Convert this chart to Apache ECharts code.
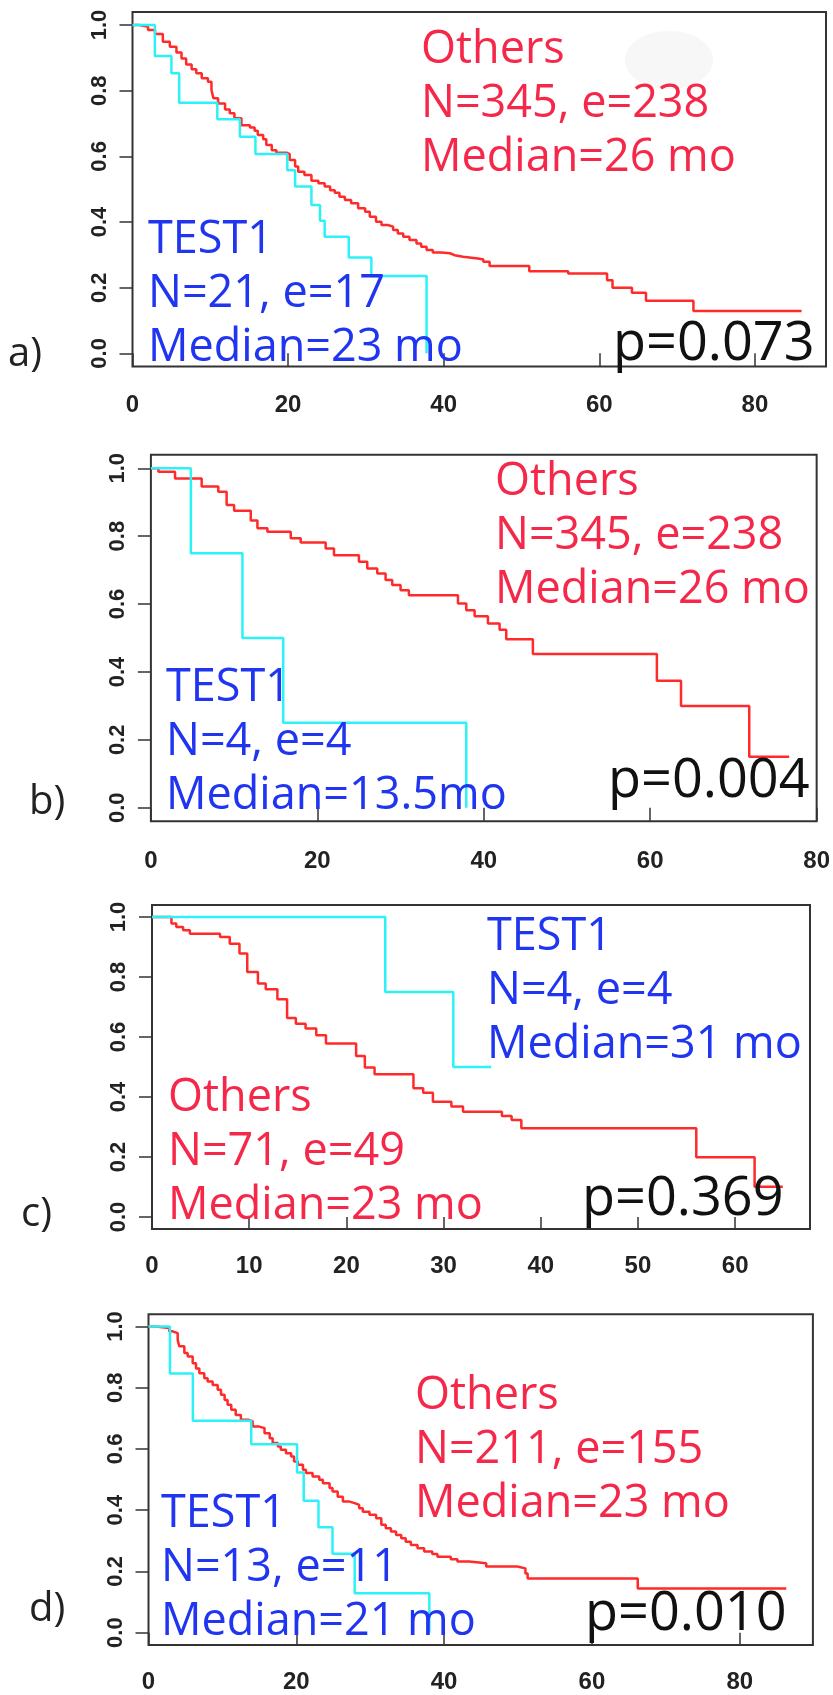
<!DOCTYPE html>
<html><head><meta charset="utf-8">
<script src="https://cdn.jsdelivr.net/npm/echarts@6/dist/echarts.min.js"></script>
<style>html,body{margin:0;padding:0;background:#fff}#c{width:833px;height:1695px}</style>
</head><body><div id="c"></div>
<script>
// ---------------- DATA ----------------
const yTicks = [0, 0.2, 0.4, 0.6, 0.8, 1.0];
const xTicksA = [0, 20, 40, 60, 80];
const xTicksB = [0, 20, 40, 60, 80];
const xTicksC = [0, 10, 20, 30, 40, 50, 60];
const xTicksD = [0, 20, 40, 60, 80];

// Kaplan-Meier curves: [time (months), survival after the drop at that time]
const othersA = [[0,1],[0.9,0.995],[2.0,0.985],[2.9,0.973],[3.9,0.949],[4.8,0.934],[5.65,0.916],[6.3,0.898],[6.9,0.88],[7.6,0.865],[8.2,0.853],[8.9,0.838],[9.7,0.827],[10.15,0.802],[10.4,0.777],[11.0,0.761],[11.9,0.743],[12.5,0.731],[13.1,0.716],[14.0,0.695],[15.1,0.688],[15.7,0.678],[16.1,0.665],[16.8,0.652],[17.2,0.635],[17.9,0.619],[18.5,0.611],[19.8,0.607],[20.2,0.589],[20.9,0.569],[21.3,0.553],[22.1,0.543],[23.0,0.526],[23.9,0.518],[24.7,0.508],[25.4,0.497],[26.0,0.489],[26.6,0.477],[27.3,0.467],[28.1,0.457],[29.0,0.442],[29.9,0.431],[30.5,0.416],[31.3,0.401],[32.0,0.391],[32.8,0.386],[33.5,0.376],[34.1,0.365],[34.8,0.355],[35.6,0.345],[36.5,0.335],[37.1,0.325],[37.8,0.315],[38.6,0.307],[39.7,0.305],[40.8,0.299],[41.4,0.294],[42.5,0.289],[44.4,0.286],[45.1,0.279],[45.9,0.266],[51.0,0.25],[56.0,0.243],[61.0,0.223],[61.7,0.2],[64.2,0.185],[66.0,0.16],[72.1,0.129],[86.0,0.129]];
const test1A = [[0,1],[2.87,0.906],[5.0,0.853],[6.0,0.763],[10.9,0.713],[13.8,0.66],[15.8,0.607],[19.9,0.558],[20.9,0.508],[23.0,0.452],[24.1,0.404],[24.7,0.355],[27.8,0.292],[30.7,0.236],[37.8,0]];

const othersB = [[0,1],[0.9,0.99],[2.9,0.97],[6.1,0.946],[8.1,0.931],[9.1,0.892],[10.0,0.875],[12.0,0.846],[12.8,0.823],[14.0,0.813],[16.8,0.794],[18.0,0.781],[21.0,0.764],[22.0,0.744],[25.0,0.725],[26.0,0.705],[27.2,0.69],[28.2,0.671],[29.0,0.656],[30.0,0.641],[31.0,0.626],[36.9,0.602],[37.9,0.582],[38.9,0.564],[40.5,0.543],[41.9,0.524],[42.7,0.496],[45.9,0.453],[60.8,0.374],[63.7,0.30],[71.9,0.15],[76.7,0.15]];
const test1B = [[0,1],[4.8,0.75],[11.0,0.5],[15.9,0.25],[37.9,0]];

const othersC = [[0,1],[2.0,0.978],[2.5,0.967],[3.2,0.956],[3.9,0.944],[7.0,0.933],[8.0,0.911],[9.0,0.878],[9.8,0.817],[10.9,0.778],[11.7,0.759],[12.9,0.726],[13.9,0.663],[14.8,0.644],[15.8,0.628],[16.9,0.606],[17.9,0.578],[21.0,0.537],[21.9,0.498],[22.9,0.476],[26.9,0.429],[27.9,0.414],[28.9,0.384],[30.8,0.368],[32.0,0.351],[36.0,0.337],[37.0,0.323],[38.0,0.296],[56.0,0.199],[62.0,0.101],[64.9,0.101]];
const test1C = [[0,1],[24.0,0.75],[31.0,0.5],[34.9,0.5]];

const othersD = [[0,1],[1.0,0.995],[2.8,0.984],[3.27,0.978],[3.95,0.956],[4.17,0.935],[4.85,0.913],[5.3,0.902],[5.98,0.88],[6.43,0.863],[6.88,0.847],[7.55,0.831],[8.0,0.82],[8.68,0.809],[9.36,0.793],[9.81,0.777],[10.3,0.76],[10.7,0.744],[11.2,0.728],[11.8,0.711],[12.5,0.695],[13.6,0.69],[14.1,0.673],[15.0,0.668],[15.7,0.651],[16.4,0.635],[16.8,0.619],[17.5,0.608],[17.9,0.597],[18.6,0.586],[19.3,0.575],[19.7,0.559],[20.2,0.548],[20.9,0.532],[21.3,0.521],[22.2,0.51],[23.1,0.499],[23.6,0.488],[24.5,0.472],[24.9,0.461],[25.6,0.444],[26.3,0.428],[27.2,0.423],[27.9,0.417],[28.5,0.406],[29.0,0.395],[29.9,0.385],[30.8,0.374],[31.5,0.352],[32.1,0.341],[32.8,0.33],[33.5,0.319],[34.2,0.308],[34.8,0.297],[35.5,0.286],[36.4,0.276],[37.3,0.265],[38.4,0.257],[39.1,0.248],[40.9,0.24],[41.8,0.232],[43.4,0.227],[45.7,0.216],[49.9,0.21],[51.0,0.193],[51.3,0.177],[66.2,0.144],[86.3,0.144]];
const test1D = [[0,1],[2.9,0.846],[6.0,0.692],[13.9,0.615],[20.1,0.523],[21.0,0.431],[23.0,0.344],[24.9,0.258],[27.9,0.129],[38.0,0]];

const othersTextA = ['Others', 'N=345, e=238', 'Median=26 mo'];
const test1TextA  = ['TEST1', 'N=21, e=17', 'Median=23 mo'];
const othersTextB = ['Others', 'N=345, e=238', 'Median=26 mo'];
const test1TextB  = ['TEST1', 'N=4, e=4', 'Median=13.5mo'];
const othersTextC = ['Others', 'N=71, e=49', 'Median=23 mo'];
const test1TextC  = ['TEST1', 'N=4, e=4', 'Median=31 mo'];
const othersTextD = ['Others', 'N=211, e=155', 'Median=23 mo'];
const test1TextD  = ['TEST1', 'N=13, e=11', 'Median=21 mo'];
const pValues = ['p=0.073', 'p=0.004', 'p=0.369', 'p=0.010'];
const panelLabels = ['a)', 'b)', 'c)', 'd)'];

// ---------------- LAYOUT ----------------
const panels = [
  {grid:{left:132.5, top:11.9, width:693.5, height:354.6}, xMax:89.14, xTicks:xTicksA, xMargin:27,
   others:othersA, test1:test1A, oText:othersTextA, tText:test1TextA,
   oPos:[421,63], tPos:[148,253], pPos:[613,360], lPos:[8,366]},
  {grid:{left:150.9, top:454.7, width:670, height:366.6}, xMax:80, xTicks:xTicksB, xMargin:28,
   others:othersB, test1:test1B, oText:othersTextB, tText:test1TextB,
   oPos:[495,495], tPos:[166,701], pPos:[608,797], lPos:[29,814]},
  {grid:{left:152, top:905, width:658, height:324}, xMax:67.7, xTicks:xTicksC, xMargin:25,
   others:othersC, test1:test1C, oText:othersTextC, tText:test1TextC,
   oPos:[168,1111], tPos:[487,950], pPos:[582,1215], lPos:[21,1226]},
  {grid:{left:148.5, top:1314.2, width:664.4, height:330.7}, xMax:89.9, xTicks:xTicksD, xMargin:25,
   others:othersD, test1:test1D, oText:othersTextD, tText:test1TextD,
   oPos:[415,1409], tPos:[161,1527], pPos:[585,1630], lPos:[29,1621]}
];

const RED_LINE = '#ff2a2a', CYAN_LINE = '#2cf2f7';
const RED_TEXT = '#f5284a', BLUE_TEXT = '#1f35f0';
const FONT = '"Open Sans", "Noto Sans", sans-serif';
const LINE_GAP = 54;
const TICK_FONT = 'Liberation Sans';

function km(pairs) {
  const pts = [];
  for (let i = 0; i < pairs.length; i++) {
    if (i > 0) pts.push([pairs[i][0], pairs[i - 1][1]]);
    pts.push(pairs[i]);
  }
  return pts;
}

function textAt(x, baseline, text, size, color) {
  return {type:'text', x:x, y:baseline - 0.28 * size, z:10,
    style:{text:text, font:size + 'px ' + FONT, fill:color, align:'left', verticalAlign:'middle'}};
}

const grids = [], xAxes = [], yAxes = [], series = [], graphics = [];
// faint smudge present in the original scan (panel a)
graphics.push({type:'ellipse', shape:{cx:669, cy:60, rx:44, ry:29}, style:{fill:'#f7f7f7'}, z:0});

panels.forEach((p, i) => {
  grids.push(Object.assign({show:true, borderColor:'#333', borderWidth:2, backgroundColor:'transparent', containLabel:false}, p.grid));
  xAxes.push({type:'value', gridIndex:i, min:0, max:p.xMax,
    axisLine:{show:false}, splitLine:{show:false},
    axisTick:{show:true, inside:false, length:13, customValues:p.xTicks, lineStyle:{color:'#333', width:1.5}},
    axisLabel:{show:true, customValues:p.xTicks, margin:p.xMargin, color:'#222', fontSize:24, fontWeight:'bold',
      fontFamily:TICK_FONT, formatter:v => String(Math.round(v))}});
  yAxes.push({type:'value', gridIndex:i, min:-0.04, max:1.04,
    axisLine:{show:false}, splitLine:{show:false},
    axisTick:{show:true, inside:false, length:13, customValues:yTicks, lineStyle:{color:'#333', width:1.5}},
    axisLabel:{show:true, customValues:yTicks, rotate:90, margin:22, color:'#222', fontSize:22, fontWeight:'bold',
      fontFamily:TICK_FONT, formatter:v => v.toFixed(1)}});
  series.push({type:'line', xAxisIndex:i, yAxisIndex:i, data:km(p.others), showSymbol:false, symbol:'none',
    lineStyle:{color:RED_LINE, width:2.5}, itemStyle:{color:RED_LINE}, z:3, silent:true, animation:false});
  series.push({type:'line', xAxisIndex:i, yAxisIndex:i, data:km(p.test1), showSymbol:false, symbol:'none',
    lineStyle:{color:CYAN_LINE, width:2.5}, itemStyle:{color:CYAN_LINE}, z:4, silent:true, animation:false});

  p.oText.forEach((t, k) => graphics.push(textAt(p.oPos[0], p.oPos[1] + k * LINE_GAP, t, 45, RED_TEXT)));
  p.tText.forEach((t, k) => graphics.push(textAt(p.tPos[0], p.tPos[1] + k * LINE_GAP, t, 45, BLUE_TEXT)));
  graphics.push(textAt(p.pPos[0], p.pPos[1], pValues[i], 54, '#111'));
  graphics.push(textAt(p.lPos[0], p.lPos[1], panelLabels[i], 40, '#222'));
});

const chart = echarts.init(document.getElementById('c'), null, {renderer:'canvas', width:833, height:1695});
chart.setOption({
  animation:false,
  backgroundColor:'#ffffff',
  grid:grids, xAxis:xAxes, yAxis:yAxes, series:series, graphic:graphics
});
</script></body></html>
